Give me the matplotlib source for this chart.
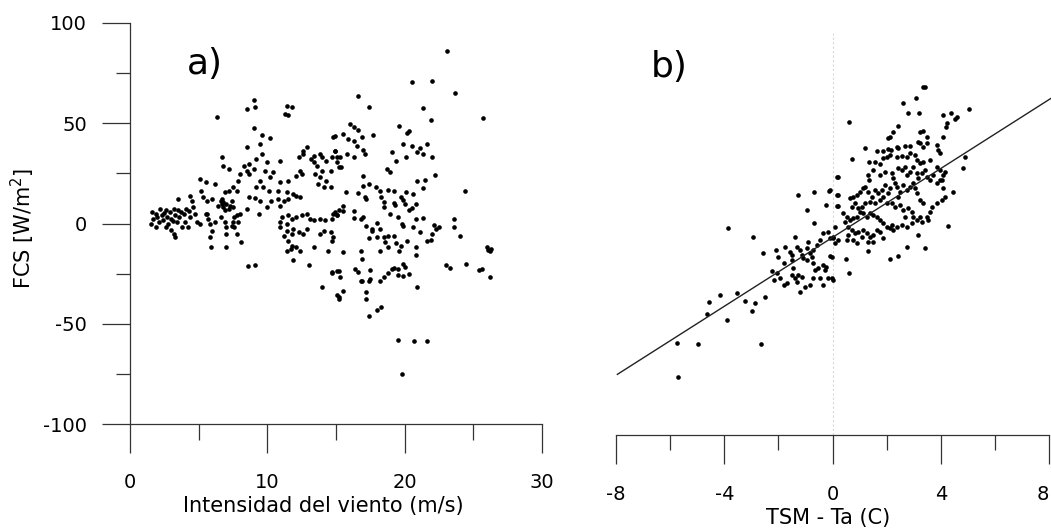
import matplotlib
matplotlib.use("Agg")
import matplotlib.pyplot as plt
from matplotlib.ticker import MultipleLocator

plt.rcParams['font.family'] = ['DejaVu Sans']
plt.rcParams['axes.unicode_minus'] = False

# panel a) wind speed (m/s) vs FCS (W/m2)
a_calm = [(1.5, -0.2), (1.7, 2.3), (1.9, 4.8), (2.1, 0.6), (2.2, 7.3), (2.3, 4.0), (2.4, 1.5),
          (2.6, 6.5), (2.7, 3.1), (2.8, -0.2), (2.9, 5.6), (3.0, 2.3), (3.2, 7.3), (3.3, 4.0),
          (3.4, 0.6), (3.5, 6.5), (3.6, 3.1), (3.8, -1.9), (3.9, 4.8), (4.0, 0.6), (4.1, 7.3),
          (4.2, -1.9), (4.4, 3.1), (4.6, 8.1), (4.7, 4.8), (3.2, -5.2), (3.3, -6.8), (1.9, -1.9),
          (3.5, 12.3), (4.4, 13.9), (4.5, 11.4), (4.9, 0.6), (2.0, 3.0), (2.5, 5.0), (3.1, 1.0),
          (3.7, 5.5), (4.3, 6.0), (1.6, 5.5), (2.6, -1.5), (3.0, -3.0)]

a_moderate = [(5.1, 22.3), (5.5, 20.6), (5.2, 16.4), (5.3, 13.1), (5.6, 11.4), (6.0, 12.3),
              (6.2, 19.8), (6.6, 11.4), (6.7, 9.8), (6.8, 8.1), (7.0, 9.8), (7.3, 8.9), (7.4, 11.4),
              (6.9, 15.6), (7.2, 16.4), (7.5, 18.1), (7.8, 16.4), (7.9, 21.4), (8.0, 24.8),
              (8.3, 28.9), (8.5, 26.4), (8.7, 24.8), (9.0, 27.2), (6.8, 28.9), (7.2, 27.2),
              (6.7, 33.1), (5.6, 4.8), (5.7, 2.3), (5.8, -0.2), (6.0, -3.5), (5.8, -6.8), (5.5, 4.8),
              (6.2, 0.6), (6.6, 3.1), (6.9, 0.6), (7.0, -1.9), (7.4, -1.0), (7.8, 4.0), (7.9, 0.6),
              (7.8, -5.2), (8.0, 4.8), (5.1, -0.2), (7.0, -5.2), (8.1, -9.3), (5.9, -11.8),
              (7.0, -11.5), (6.3, 53.0), (8.5, 57.2), (9.0, 61.7), (9.1, 58.3), (9.0, 47.7),
              (9.6, 43.9), (10.2, 42.7), (9.5, 39.7), (8.5, 38.1), (9.6, 34.7), (9.2, 32.2),
              (8.7, 29.7), (10.0, 30.6), (9.8, 26.4), (10.2, 23.1), (9.5, 21.4), (9.2, 18.1),
              (9.7, 18.1), (10.1, 16.4), (10.4, 25.6), (10.9, 31.4), (10.3, 11.4), (10.0, 8.1),
              (9.4, 4.8), (8.5, 7.3), (8.7, 13.1), (9.1, 12.8), (9.5, 11.4), (10.8, 16.4),
              (10.8, 12.3), (10.9, 8.9), (11.2, 11.4), (11.4, 15.6), (11.5, 12.3), (11.9, 14.8),
              (12.1, 13.9), (12.4, 13.1), (10.9, 20.6), (11.5, 21.4), (12.1, 23.9), (12.4, 26.4),
              (12.5, 24.8), (12.3, 33.1), (12.6, 34.7), (12.9, 38.1), (12.6, 36.4), (13.2, 32.2),
              (13.4, 30.6), (13.6, 28.9), (13.5, 24.8), (13.8, 23.1), (14.0, 26.4), (13.7, 19.8),
              (14.1, 18.1), (14.6, 18.1), (14.3, 21.4), (14.6, 26.4), (14.0, 33.1), (14.3, 31.4),
              (14.7, 33.1), (15.1, 30.6), (14.9, 36.4), (14.8, 43.0), (13.8, 34.7), (13.4, 33.9),
              (10.9, 0.6), (11.1, 3.1), (11.5, 4.0), (11.8, 2.3), (12.1, 3.1), (12.5, 4.0),
              (12.9, 4.8), (13.1, 2.3), (13.4, 1.5), (13.8, 2.3), (14.2, 1.5), (14.7, 2.3),
              (14.8, 4.8), (15.1, 4.0), (15.2, 6.5), (11.2, -6.0), (11.4, -3.5), (11.5, -8.5),
              (11.8, -5.2), (11.9, -2.7), (12.3, -4.3), (12.6, -5.2), (12.9, -2.7), (11.8, -11.0),
              (12.1, -11.8), (12.4, -13.5), (11.4, -13.5), (13.4, -11.8), (13.8, -5.2),
              (14.1, -3.5), (14.6, -4.3), (14.8, -6.8), (14.7, -8.5), (11.7, -12.7), (11.9, -18.2),
              (13.0, -20.5), (14.4, -13.5), (14.7, -24.3), (15.1, -23.5), (14.0, -31.8),
              (15.2, -36.8), (8.6, -21.0), (9.1, -20.5), (11.4, 58.8), (11.5, 53.9), (11.8, 58.0),
              (11.3, 54.7), (10.9, -1.9), (11.4, -0.2), (6.4, 8.9), (6.8, 10.6), (7.2, 7.3),
              (7.5, 8.1), (6.9, 6.5), (6.7, 12.3), (7.6, 3.1), (7.5, 0.6), (7.6, -1.9)]

a_strong = [(23.1, 85.8), (16.6, 63.5), (17.4, 58.3), (20.5, 70.8), (22.0, 71.3), (23.7, 65.0),
            (21.3, 57.7), (21.9, 51.4), (25.7, 52.5), (19.6, 48.4), (20.3, 45.9), (20.2, 45.0),
            (19.9, 39.7), (20.5, 38.9), (21.1, 37.7), (21.6, 39.7), (21.3, 34.7), (20.9, 35.6),
            (22.0, 33.4), (19.1, 35.6), (19.4, 31.4), (20.1, 33.4), (18.7, 27.3), (18.9, 25.6),
            (22.2, 24.2), (20.9, 21.4), (21.3, 17.8), (21.5, 21.8), (24.4, 16.1), (16.0, 49.7),
            (16.3, 48.0), (16.6, 46.7), (15.9, 42.2), (16.3, 41.0), (16.5, 38.9), (16.9, 43.0),
            (17.0, 36.7), (17.1, 34.7), (17.7, 44.2), (15.5, 44.7), (14.9, 43.4), (14.9, 36.4),
            (15.1, 33.0), (15.3, 33.0), (15.2, 28.1), (15.4, 28.1), (15.8, 34.7), (16.3, 33.0),
            (17.0, 23.9), (17.0, 18.9), (17.4, 19.8), (17.9, 18.4), (16.6, 15.1), (15.7, 15.6),
            (17.1, 13.1), (17.2, 12.3), (18.2, 16.4), (18.3, 13.1), (18.5, 10.6), (18.5, 8.1),
            (18.8, 16.8), (19.2, 16.4), (19.2, 10.1), (19.3, 9.0), (19.7, 13.1), (19.9, 11.5),
            (20.0, 9.8), (20.1, 15.6), (20.6, 14.8), (20.8, 9.8), (20.5, 7.8), (20.3, 6.5),
            (14.9, 5.6), (15.1, 4.0), (15.5, 8.5), (15.5, 6.1), (16.3, 6.1), (16.3, 2.8),
            (16.8, 2.3), (17.0, 3.1), (17.2, -1.0), (17.6, -2.7), (17.6, -3.9), (18.0, 0.1),
            (18.2, -2.7), (18.0, -6.5), (18.5, -6.5), (18.8, -6.2), (19.2, -6.0), (18.9, 4.8),
            (19.5, 3.1), (19.8, -0.2), (19.9, -1.0), (20.6, -1.5), (20.8, 2.3), (21.3, 2.8),
            (21.1, -4.4), (21.6, -8.8), (21.9, -8.2), (22.0, -5.2), (22.1, -0.5), (22.3, -2.7),
            (22.5, -1.9), (23.6, 2.3), (23.6, -1.9), (24.0, -6.0), (15.5, -14.0), (16.8, -13.5),
            (16.9, -17.7), (17.4, -7.2), (18.6, -9.3), (18.8, -11.8), (19.4, -9.8), (19.6, -13.5),
            (19.7, -11.0), (20.2, -8.8), (18.2, -13.5), (20.8, -11.8), (20.8, -15.5),
            (23.0, -20.5), (23.3, -22.1), (24.5, -20.2), (25.4, -23.1), (25.6, -22.6),
            (26.2, -26.8), (26.0, -11.8), (26.1, -13.2), (26.2, -13.5), (26.3, -12.8),
            (14.7, -24.8), (15.2, -23.8), (15.3, -26.8), (16.4, -22.6), (16.6, -24.3),
            (16.8, -28.5), (16.9, -28.8), (17.4, -28.5), (17.5, -27.6), (17.5, -23.1),
            (18.2, -28.5), (18.5, -26.8), (18.8, -24.8), (19.1, -22.6), (19.2, -22.3),
            (19.5, -22.6), (19.5, -25.5), (19.9, -20.2), (20.0, -21.5), (19.9, -26.0),
            (20.3, -25.1), (20.9, -31.8), (15.5, -33.5), (15.1, -35.9), (15.2, -37.6),
            (17.2, -34.3), (17.2, -37.6), (17.4, -45.9), (18.0, -43.1), (18.3, -41.4),
            (19.5, -58.1), (20.7, -58.7), (21.6, -58.4), (19.8, -75.0)]

# panel b) TSM - Ta (C) vs FCS (W/m2)
b_cool = [(-5.7, -71.3), (-5.73, -54.4), (-4.96, -54.9), (-2.64, -54.9), (-3.91, -42.8),
          (-4.65, -39.8), (-4.56, -34.0), (-4.16, -30.3), (-3.54, -29.2), (-3.23, -33.2),
          (-2.86, -34.5), (-2.99, -38.1), (-2.49, -31.2), (-3.87, 3.2), (-2.95, -1.6),
          (-2.58, -9.6), (-2.10, -8.0), (-2.0, -11.6), (-1.75, -6.6), (-1.57, -8.8),
          (-1.51, -10.4), (-1.38, -1.6), (-1.32, -6.3), (-1.20, -8.0), (-1.14, -10.4),
          (-1.08, -12.1), (-0.95, -7.1), (-0.89, -3.8), (-0.83, -9.6), (-0.77, -11.3),
          (-0.71, -8.0), (-0.58, -5.5), (-0.46, -3.0), (-0.34, 0.3), (-0.15, 1.2), (-0.09, -2.1),
          (0.03, -1.3), (0.09, -4.6), (-0.95, 11.9), (-1.26, 19.4), (-0.68, 21.1), (-0.12, 21.6),
          (0.20, 19.4), (-0.24, 14.4), (0.20, 13.9), (-0.68, 5.65), (0.20, 28.5), (-2.25, -18.2),
          (-2.16, -22.9), (-2.06, -19.6), (-1.94, -22.0), (-1.81, -25.4), (-1.69, -24.5),
          (-1.51, -20.4), (-1.45, -17.1), (-1.38, -22.0), (-1.32, -23.7), (-1.26, -20.4),
          (-1.20, -28.7), (-1.14, -21.2), (-1.02, -26.2), (-0.83, -25.4), (-0.71, -22.0),
          (-0.65, -17.9), (-0.52, -17.1), (-0.46, -22.0), (-0.34, -15.4), (-0.28, -17.9),
          (-0.23, -16.2), (-0.34, -25.4), (-0.15, -22.0), (-0.03, -22.0), (-0.09, -10.9),
          (-0.71, -14.6), (-0.95, -12.9), (-1.81, -14.6), (-1.51, -12.9)]

b_warm = [(3.33, 73.3), (3.42, 73.0), (2.59, 65.3), (3.09, 67.5), (2.80, 60.4), (3.21, 60.4),
          (5.06, 62.0), (4.07, 59.2), (4.37, 60.4), (4.59, 58.4), (4.53, 57.1), (4.22, 55.1),
          (4.20, 53.4), (0.62, 55.6), (2.43, 53.9), (2.25, 50.9), (2.06, 48.0), (2.13, 48.4),
          (3.23, 50.9), (3.33, 51.3), (3.48, 48.4), (3.17, 46.0), (3.23, 45.1), (3.36, 43.5),
          (3.48, 45.1), (3.85, 44.3), (3.91, 41.8), (3.97, 40.2), (4.07, 48.1), (1.20, 42.6),
          (1.63, 41.5), (1.85, 41.5), (2.06, 42.1), (2.15, 41.8), (2.37, 43.1), (2.43, 42.6),
          (2.68, 43.8), (2.86, 43.8), (0.71, 37.3), (1.36, 35.7), (1.57, 36.0), (1.76, 34.8),
          (1.88, 37.7), (2.0, 38.5), (2.13, 39.3), (2.37, 38.5), (2.56, 38.8), (2.74, 38.2),
          (2.86, 40.2), (3.05, 39.3), (3.11, 36.8), (3.23, 35.2), (3.36, 36.0), (3.60, 36.8),
          (3.85, 33.5), (3.97, 31.9), (4.16, 31.0), (4.10, 29.4), (4.03, 26.9), (4.90, 38.5),
          (4.81, 32.7), (4.47, 21.1), (4.28, 4.0), (0.18, 28.5), (0.18, 19.4), (0.18, 14.1),
          (-0.09, 21.9), (1.32, 29.4), (1.36, 26.9), (1.51, 31.9), (1.76, 29.4), (1.94, 31.0),
          (2.19, 30.2), (2.25, 27.7), (2.43, 32.7), (2.56, 31.9), (2.68, 33.5), (2.74, 29.4),
          (2.86, 31.0), (2.99, 33.5), (3.11, 30.2), (3.17, 27.7), (3.30, 30.2), (3.42, 31.9),
          (3.48, 28.5), (3.60, 26.9), (3.73, 29.4), (3.85, 25.2), (3.97, 26.9), (4.10, 22.7),
          (4.16, 18.6), (4.03, 16.9), (3.85, 15.3), (3.67, 13.6), (3.60, 11.1), (3.48, 8.6),
          (3.54, 7.0), (3.36, 15.3), (3.23, 16.9), (3.11, 20.3), (3.05, 22.7), (2.99, 25.2),
          (2.86, 23.6), (2.74, 21.9), (2.62, 24.4), (2.49, 21.1), (2.43, 18.6), (2.37, 23.6),
          (2.31, 25.2), (2.13, 22.7), (2.06, 20.3), (1.94, 24.4), (1.82, 21.9), (1.69, 20.3),
          (1.57, 21.9), (1.45, 18.6), (1.32, 21.1), (1.20, 23.6), (1.14, 22.7), (1.02, 21.1),
          (0.89, 19.4), (0.77, 18.6), (0.65, 17.8), (0.71, 13.6), (0.83, 15.3), (0.96, 12.8),
          (1.08, 13.6), (1.20, 15.3), (1.39, 16.1), (1.57, 15.3), (1.76, 16.9), (1.88, 18.6),
          (2.0, 15.3), (2.19, 15.3), (2.31, 13.6), (2.49, 14.5), (2.62, 12.0), (2.80, 12.8),
          (2.93, 11.1), (2.99, 8.6), (3.11, 7.0), (3.23, 8.6), (3.30, 6.2), (2.93, 5.3),
          (2.74, 3.7), (2.56, 4.5), (2.37, 3.7), (2.25, 2.0), (2.13, 2.8), (2.0, 3.7),
          (1.88, 5.3), (1.76, 7.0), (1.63, 8.6), (1.51, 9.5), (1.39, 10.3), (1.26, 8.6),
          (1.14, 10.3), (1.02, 11.1), (0.89, 8.6), (0.77, 7.8), (0.65, 7.0), (0.52, 8.6),
          (0.40, 10.3), (0.46, 6.2), (0.59, 3.7), (0.71, 2.0), (0.83, 0.3), (0.96, 1.2),
          (1.14, 2.0), (1.26, 0.3), (1.39, -1.3), (1.51, -0.5), (1.63, 2.0), (1.76, 1.2),
          (1.08, -1.3), (0.77, -2.9), (0.89, -4.3), (0.59, -0.5), (0.52, -2.9), (1.32, -3.8),
          (1.51, -3.8), (1.88, -2.1), (2.19, 4.5), (2.68, 8.6), (3.15, -0.5), (2.74, -6.3),
          (3.42, -7.1), (2.43, -10.9), (2.13, -12.6), (1.32, -8.3), (0.50, -12.6), (0.62, -19.5),
          (0.03, -22.9), (-0.03, -11.3), (0.09, 3.7), (0.03, -2.1), (0.22, -2.9)]

# fitted line drawn in panel b)
fit_slope = 8.57
fit_intercept = -1.7
fit_range = [-7.95, 8.2]

b_ticks = [-8, -4, 0, 4, 8]
b_tick_labels = ['-8', '-4', '0', '4', '8']

W, H = 1051, 532
fig = plt.figure(figsize=(W / 100, H / 100), dpi=100)
axis_col = '#333333'

ax1 = fig.add_axes([130 / W, (H - 424) / H, 412 / W, 401 / H])
ax2 = fig.add_axes([616 / W, (H - 435) / H, 433 / W, 402 / H])

wind = [p[0] for p in a_calm + a_moderate + a_strong]
fcs_a = [p[1] for p in a_calm + a_moderate + a_strong]
dT = [p[0] for p in b_cool + b_warm]
fcs_b = [p[1] for p in b_cool + b_warm]

ax1.scatter(wind, fcs_a, s=11, c='black', linewidths=0)
ax2.scatter(dT, fcs_b, s=11, c='black', linewidths=0)
fx = fit_range
fy = [fit_intercept + fit_slope * v for v in fx]
ax2.plot(fx, fy, color='#222222', lw=1.0, clip_on=False)
ax2.axvline(0, color='#d8d8d8', lw=0.8, ls=(0, (2, 2)), zorder=0)

ax1.set_xlim(0, 30)
ax1.set_ylim(-100, 100)
ax2.set_xlim(-8, 8)
ax2.set_ylim(-100, 100)

for ax in (ax1, ax2):
    ax.patch.set_visible(False)
    for s in ('top', 'right'):
        ax.spines[s].set_visible(False)
    for s in ('left', 'bottom'):
        ax.spines[s].set_color(axis_col)
        ax.spines[s].set_linewidth(0.9)
    ax.tick_params(which='both', direction='out', color=axis_col, width=0.9,
                   labelsize=14)

ax1.xaxis.set_major_locator(MultipleLocator(10))
ax1.xaxis.set_minor_locator(MultipleLocator(5))
ax1.yaxis.set_major_locator(MultipleLocator(50))
ax1.yaxis.set_minor_locator(MultipleLocator(25))
ax1.tick_params(axis='y', which='major', length=20, pad=11)
ax1.tick_params(axis='y', which='minor', length=10)
ax1.tick_params(axis='x', which='major', length=21, pad=14)
ax1.tick_params(axis='x', which='minor', length=11.5)

ax2.spines['left'].set_visible(False)
ax2.yaxis.set_visible(False)
ax2.set_xticks(b_ticks, b_tick_labels)
ax2.xaxis.set_minor_locator(MultipleLocator(2))
ax2.tick_params(axis='x', which='major', length=21, pad=15)
ax2.tick_params(axis='x', which='minor', length=11)

# the last label sits at the figure edge; right-align it so it stays inside
for tick in ax2.xaxis.get_major_ticks():
    if tick.get_loc() == 8:
        tick.label1.set_horizontalalignment('right')

fig.text(323 / W, 1 - 506 / H, 'Intensidad del viento (m/s)', ha='center', va='center', fontsize=15)
fig.text(828 / W, 1 - 518 / H, 'TSM - Ta (C)', ha='center', va='center', fontsize=15)
fig.text(23 / W, 1 - 228 / H, 'FCS [W/m$^2$]', ha='center', va='center', rotation=90, fontsize=15)
fig.text(205 / W, 1 - 64 / H, 'a)', ha='center', va='center', fontsize=26)
fig.text(669 / W, 1 - 67 / H, 'b)', ha='center', va='center', fontsize=26)

fig.savefig('out.png', dpi=100)
